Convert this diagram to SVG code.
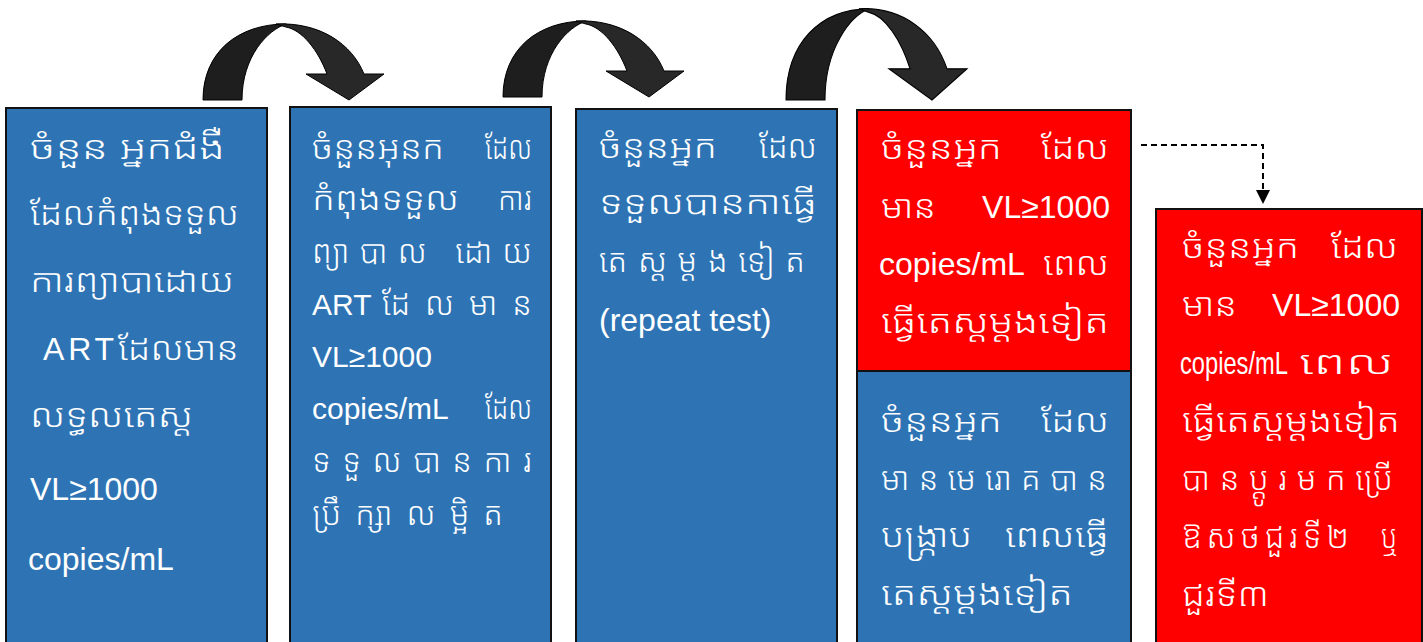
<svg xmlns="http://www.w3.org/2000/svg" width="1423" height="642" viewBox="0 0 1423 642">
<style>
.box{stroke:#111;stroke-width:2}
.blue{fill:#2E74B5}
.red{fill:#FF0000}
.k{fill:#fff;font-family:'Noto Sans Khmer','Khmer OS','Khmer OS System','Noto Serif Khmer','Liberation Sans',sans-serif;font-size:32px;font-weight:300}
.l{fill:#fff;font-family:'Liberation Sans',Arial,sans-serif;font-size:32px}
.e{text-anchor:end}
.a1{fill:#1e1e1e;stroke:#000;stroke-width:1}
.a2{fill:#282828;stroke:#000;stroke-width:1}
.dash{fill:none;stroke:#000;stroke-width:2;stroke-dasharray:6 4}
</style>
<defs>
<g id="curve">
<path class="a1" d="M203,100 C203,52 238,24 286,24 C268,30 242,56 242,100 Z"/>
<path class="a2" d="M276,24 C320,22 352,44 364,74 L384,74 L349,100 L306,74 L327,74 C318,50 302,30 286,27 C282,26 279,25 276,24 Z"/>
</g>
</defs>

<g id="connectors">
<use href="#curve"/>
<use href="#curve" transform="translate(300,-3)"/>
<use href="#curve" transform="translate(583,100) scale(1,1.2) translate(0,-100)"/>
<path class="dash" d="M1141,145 H1263 V199"/>
<path d="M1256,190 L1270,190 L1263,204 Z" fill="#000"/>
</g>

<g id="node1">
<rect class="box blue" x="6" y="108" width="261" height="560"/>
<text class="k" x="30" y="159" textLength="195" lengthAdjust="spacingAndGlyphs">ចំនួន អ្នកជំងឺ</text>
<text class="k" x="30" y="225" textLength="209" lengthAdjust="spacingAndGlyphs">ដែលកំពុងទទួល</text>
<text class="k" x="30" y="292" textLength="204" lengthAdjust="spacingAndGlyphs">ការព្យាបាដោយ</text>
<text class="l" x="43" y="360" textLength="71" lengthAdjust="spacing">ART</text>
<text class="k" x="118" y="360" textLength="121" lengthAdjust="spacingAndGlyphs">ដែលមាន</text>
<text class="k" x="30" y="427" textLength="163" lengthAdjust="spacingAndGlyphs">លទ្ធលតេស្ត</text>
<text class="l" x="30" y="500">VL≥1000</text>
<text class="l" x="28" y="570">copies/mL</text>
</g>

<g id="node2">
<rect class="box blue" x="290" y="107" width="261" height="560"/>
<text class="k" x="312" y="159" textLength="132" lengthAdjust="spacingAndGlyphs">ចំនួនអុនក</text>
<text class="k e" x="532" y="159" textLength="47" lengthAdjust="spacingAndGlyphs">ដែល</text>
<text class="k" x="312" y="210" textLength="147" lengthAdjust="spacingAndGlyphs">កំពុងទទួល</text>
<text class="k e" x="532" y="210" textLength="34" lengthAdjust="spacingAndGlyphs">ការ</text>
<text class="k" x="312" y="263" textLength="220" lengthAdjust="spacing">ព្យាបាល ដោយ</text>
<text class="l" x="312" y="315" style="font-size:30px">ART</text>
<text class="k" x="382" y="315" textLength="150" lengthAdjust="spacing">ដែលមាន</text>
<text class="l" x="312" y="367" style="font-size:30px">VL≥1000</text>
<text class="l" x="312" y="419" style="font-size:30px">copies/mL</text>
<text class="k e" x="532" y="419" textLength="47" lengthAdjust="spacingAndGlyphs">ដែល</text>
<text class="k" x="312" y="472" textLength="220" lengthAdjust="spacing">ទទួលបានការ</text>
<text class="k" x="312" y="525" textLength="191" lengthAdjust="spacing">ប្រឹក្សាលម្អិត</text>
</g>

<g id="node3">
<rect class="box blue" x="576" y="109" width="261" height="560"/>
<text class="k" x="599" y="158" textLength="118" lengthAdjust="spacingAndGlyphs">ចំនួនអ្នក</text>
<text class="k e" x="817" y="158" textLength="58" lengthAdjust="spacingAndGlyphs">ដែល</text>
<text class="k" x="599" y="214" textLength="218" lengthAdjust="spacingAndGlyphs">ទទួលបានកាធ្វើ</text>
<text class="k" x="599" y="272" textLength="206" lengthAdjust="spacing">តេស្តម្តងទៀត</text>
<text class="l" x="599" y="331">(repeat test)</text>
</g>

<g id="node4">
<rect class="box red" x="857" y="110" width="274" height="261"/>
<rect class="box blue" x="857" y="371" width="274" height="300"/>
<text class="k" x="881" y="159" textLength="121" lengthAdjust="spacingAndGlyphs">ចំនួនអ្នក</text>
<text class="k e" x="1109" y="159" textLength="68" lengthAdjust="spacingAndGlyphs">ដែល</text>
<text class="k" x="881" y="218" textLength="55" lengthAdjust="spacingAndGlyphs">មាន</text>
<text class="l e" x="1110" y="218">VL≥1000</text>
<text class="l" x="879" y="275">copies/mL</text>
<text class="k e" x="1109" y="275" textLength="66" lengthAdjust="spacingAndGlyphs">ពេល</text>
<text class="k" x="881" y="333" textLength="228" lengthAdjust="spacingAndGlyphs">ធ្វើតេស្តម្តងទៀត</text>
<text class="k" x="881" y="432" textLength="121" lengthAdjust="spacingAndGlyphs">ចំនួនអ្នក</text>
<text class="k e" x="1109" y="432" textLength="68" lengthAdjust="spacingAndGlyphs">ដែល</text>
<text class="k" x="881" y="490" textLength="226" lengthAdjust="spacing">មានមេរោគបាន</text>
<text class="k" x="881" y="547" textLength="91" lengthAdjust="spacingAndGlyphs">បង្ក្រាប</text>
<text class="k e" x="1109" y="547" textLength="104" lengthAdjust="spacingAndGlyphs">ពេលធ្វើ</text>
<text class="k" x="881" y="605" textLength="192" lengthAdjust="spacingAndGlyphs">តេស្តម្តងទៀត</text>
</g>

<g id="node5">
<rect class="box red" x="1156" y="209" width="266" height="460"/>
<text class="k" x="1182" y="258" textLength="117" lengthAdjust="spacingAndGlyphs">ចំនួនអ្នក</text>
<text class="k e" x="1398" y="258" textLength="67" lengthAdjust="spacingAndGlyphs">ដែល</text>
<text class="k" x="1182" y="316" textLength="55" lengthAdjust="spacingAndGlyphs">មាន</text>
<text class="l e" x="1400" y="316">VL≥1000</text>
<text class="l" transform="translate(1180,374) scale(0.74,1)">copies/mL</text>
<text class="k e" x="1394" y="374" textLength="95" lengthAdjust="spacingAndGlyphs">ពេល</text>
<text class="k" x="1182" y="432" textLength="218" lengthAdjust="spacingAndGlyphs">ធ្វើតេស្តម្តងទៀត</text>
<text class="k" x="1182" y="490" textLength="211" lengthAdjust="spacing">បានប្តូរមកប្រើ</text>
<text class="k" x="1182" y="548" textLength="167" lengthAdjust="spacing">ឱសថជួរទី២</text>
<text class="k e" x="1398" y="548" textLength="17" lengthAdjust="spacingAndGlyphs">ឬ</text>
<text class="k" x="1182" y="606" textLength="87" lengthAdjust="spacingAndGlyphs">ជួរទី៣</text>
</g>
</svg>
